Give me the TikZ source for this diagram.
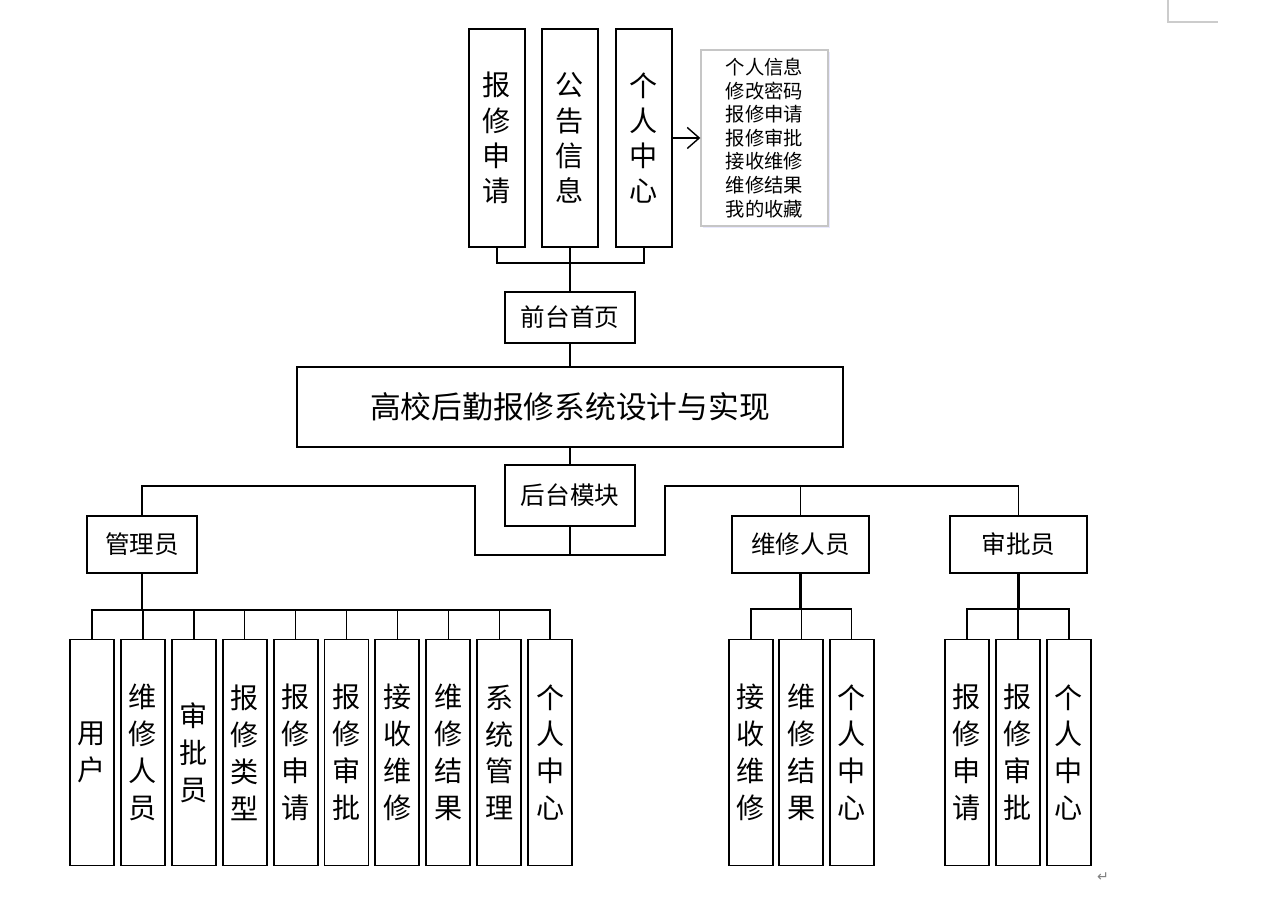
\documentclass[tikz,border=0pt]{standalone}
\usepackage{fontspec}
\setmainfont{Noto Sans CJK SC}
\newfontfamily\symfont{DejaVu Sans}
\usepackage{tikz}
\usetikzlibrary{positioning, arrows.meta, calc, shadows}

\begin{document}
\begin{tikzpicture}[
    x=0.02cm, y=-0.02cm,
    line width=0.8pt,
    >={Straight Barb[length=2.4mm, width=4.2mm]},
    box/.style={draw, line width=1.1pt, inner sep=0pt, align=center},
    colbox/.style={box, minimum width=0.88cm, minimum height=4.52cm, font=\fontsize{16}{21}\selectfont},
    topbox/.style={box, minimum width=1.12cm, minimum height=4.36cm, font=\fontsize{16}{20}\selectfont},
    rolebox/.style={box, minimum height=1.14cm, font=\fontsize{14}{16}\selectfont}
]
    \useasboundingbox (0,0) rectangle (1262,901);

    % Front pages
    \node[topbox] (q0) at (497, 138) {报\\修\\申\\请};
    \node[topbox] (q1) at (570, 138) {公\\告\\信\\息};
    \node[topbox] (q2) at (644, 138) {个\\人\\中\\心};
    \node[draw=gray!45, line width=0.8pt, minimum width=2.54cm, minimum height=3.52cm,
          align=center, inner sep=0pt, font=\fontsize{11}{13.4}\selectfont,
          drop shadow={shadow xshift=1.2pt, shadow yshift=-1.2pt, fill=blue!25, opacity=0.35},
          fill=white] (menu) at (764.5, 138)
        {个人信息\\修改密码\\报修申请\\报修审批\\接收维修\\维修结果\\我的收藏};
    \coordinate (qbar) at (570, 263);

    % Main blocks
    \node[box, minimum width=2.6cm, minimum height=1.02cm, font=\fontsize{14}{16}\selectfont] (front) at (570, 317.5) {前台首页};
    \node[box, minimum width=10.94cm, minimum height=1.6cm, font=\fontsize{17.5}{20}\selectfont] (title) at (570, 407) {高校后勤报修系统设计与实现};
    \node[box, minimum width=2.6cm, minimum height=1.22cm, font=\fontsize{14}{16}\selectfont] (back) at (570, 495.5) {后台模块};

    % Roles
    \node[rolebox, minimum width=2.2cm] (admin) at (142, 544.5) {管理员};
    \node[rolebox, minimum width=2.74cm] (fixer) at (800.5, 544.5) {维修人员};
    \node[rolebox, minimum width=2.74cm] (judge) at (1018.5, 544.5) {审批员};
    \coordinate (bl) at (475, 486);
    \coordinate (br) at (665, 555);

    % Role modules
    \foreach \lbl [count=\i from 0] in {用\\户, 维\\修\\人\\员, 审\\批\\员, 报\\修\\类\\型, 报\\修\\申\\请,
            报\\修\\审\\批, 接\\收\\维\\修, 维\\修\\结\\果, 系\\统\\管\\理, 个\\人\\中\\心}
        \node[colbox] (a\i) at ({92+50.9*\i}, 752.5) {\lbl};
    \foreach \lbl [count=\i from 0] in {接\\收\\维\\修, 维\\修\\结\\果, 个\\人\\中\\心}
        \node[colbox] (f\i) at ({751+50.3*\i}, 752.5) {\lbl};
    \foreach \lbl [count=\i from 0] in {报\\修\\申\\请, 报\\修\\审\\批, 个\\人\\中\\心}
        \node[colbox] (j\i) at ({967+51*\i}, 752.5) {\lbl};
    \coordinate (abar) at (142, 610);
    \coordinate (fbar) at (800.5, 609);
    \coordinate (jbar) at (1018.5, 609);

    % Connectors
    \draw (q0.south) |- (qbar) -| (q2.south);
    \draw (q1.south) -- (front.north);
    \draw[->] (q2.east |- menu.west) -- (menu.west);
    \draw (front.south) -- (title.north);
    \draw (title.south) -- (back.north);
    \draw (back.south) -- (back.south |- br);
    \draw (admin.north) |- (bl) |- (br) |- (judge.north |- bl) -- (judge.north);
    \draw (fixer.north) -- (fixer.north |- bl);
    \draw[line width=1.5pt] (admin.south) -- (abar);
    \draw[line width=1.5pt] (fixer.south) -- (fbar);
    \draw[line width=1.5pt] (judge.south) -- (jbar);
    \foreach \i in {0,...,9}
        \draw (a\i.north) |- (abar);
    \foreach \i in {0,1,2} {
        \draw (f\i.north) |- (fbar);
        \draw (j\i.north) |- (jbar);
    }

    % Page marks
    \draw[gray!40, line width=0.6pt] (1168, 0) |- (1218, 22);
    \node[gray, font=\symfont\fontsize{8}{8}\selectfont] (ret) at (1103, 877) {↵};
\end{tikzpicture}
\end{document}
